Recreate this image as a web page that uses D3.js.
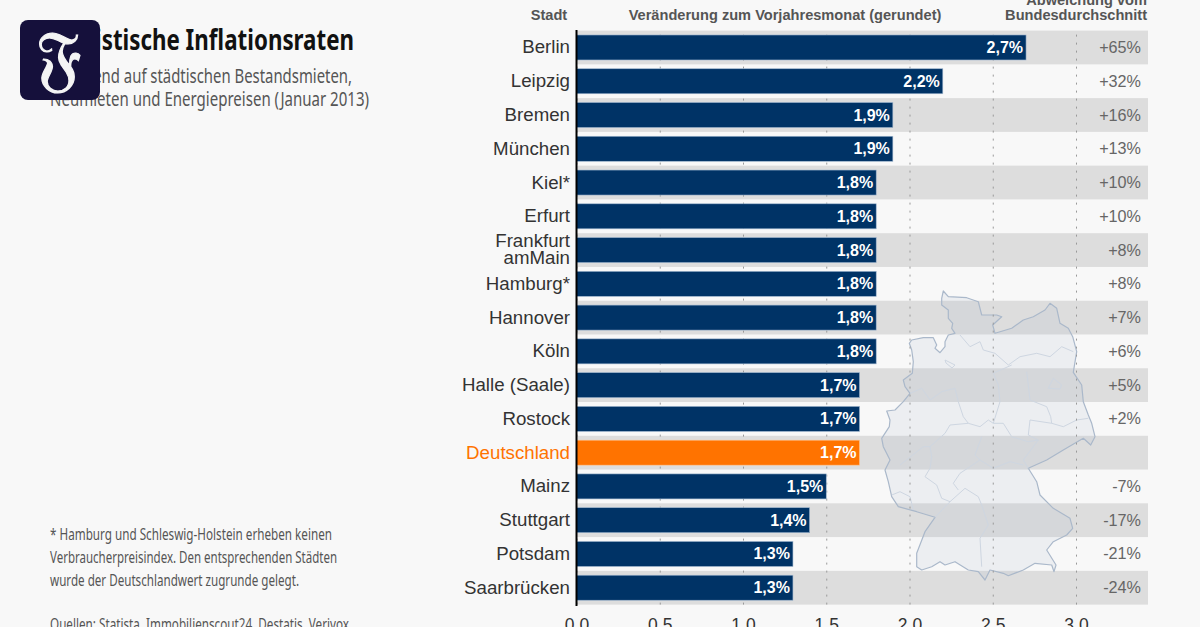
<!DOCTYPE html>
<html>
<head>
<meta charset="utf-8">
<script src="https://cdn.jsdelivr.net/npm/d3@7"></script>
<style>
  html, body { margin: 0; padding: 0; background: #f8f8f8; overflow: hidden; }
  svg { display: block; }
  text { font-family: "Liberation Sans", Arial, sans-serif; }
  .narrow { font-family: "Noto Sans", sans-serif; }
</style>
</head>
<body>
<svg id="chart" width="1200" height="627"></svg>
<script>
const cities = ["Berlin", "Leipzig", "Bremen", "München", "Kiel*", "Erfurt", "Frankfurt amMain", "Hamburg*", "Hannover", "Köln", "Halle (Saale)", "Rostock", "Deutschland", "Mainz", "Stuttgart", "Potsdam", "Saarbrücken"];
const rates = [2.7, 2.2, 1.9, 1.9, 1.8, 1.8, 1.8, 1.8, 1.8, 1.8, 1.7, 1.7, 1.7, 1.5, 1.4, 1.3, 1.3];
const deviations = ["+65%", "+32%", "+16%", "+13%", "+10%", "+10%", "+8%", "+8%", "+7%", "+6%", "+5%", "+2%", "", "-7%", "-17%", "-21%", "-24%"];
const axisTicks = [0, 0.5, 1, 1.5, 2, 2.5, 3];
const subtitle = ["Basierend auf städtischen Bestandsmieten,", "Neumieten und Energiepreisen (Januar 2013)"];
const footnote = ["* Hamburg und Schleswig-Holstein erheben keinen", "Verbraucherpreisindex. Den entsprechenden Städten", "wurde der Deutschlandwert zugrunde gelegt."];

// map outline and state borders
const germany = [[943.3,291],[941.7,298.3],[941.7,305],[948.3,310],[948.3,318.3],[952.7,323.3],[951.7,328.3],[955,333.3],[948.3,335],[945,341.7],[945,346.7],[940,352.7],[935,348.3],[936.7,345],[933.3,337.7],[923.3,337.7],[911.7,340],[909.3,343.3],[911.7,350],[913.3,361.7],[912.3,373.3],[903.3,380],[905,386.7],[910,393.3],[903.3,401.7],[895,410],[886.7,411],[890,420],[889.3,426.7],[881.7,438.3],[883.3,446.7],[890,460],[885,470],[888.3,481.7],[891.7,496.7],[898.3,506.7],[916.7,511.7],[935,517.3],[925,531.7],[916.7,553.3],[916.7,566.7],[921.7,570],[931.7,566.7],[940,561.7],[945,565],[955,561.7],[968.3,570],[978.3,571.7],[985,580],[990,570],[1003.3,573.3],[1008.3,575.7],[1023.3,570],[1035,563.3],[1051.7,565],[1054,571.7],[1056,565],[1046.7,550],[1053.3,541.7],[1066.7,535],[1072.7,528.3],[1070,518.3],[1053.3,508.3],[1040,495],[1036.7,481.7],[1028.3,468.3],[1046.7,460],[1063.3,450],[1083.3,438.3],[1090.7,445],[1095,436.7],[1091.7,423.3],[1088.3,415],[1083.3,401.7],[1081.7,385],[1073.3,372.3],[1076.7,351.7],[1072.7,336.7],[1068.3,328.3],[1060,323.3],[1056.7,308.3],[1050,303.3],[1045,310],[1033.3,316.7],[1023.3,320],[1011.7,328.3],[995,333.3],[992.7,325],[1001.7,316.7],[996.7,315],[981.7,315],[978.3,301.7],[966.7,297.7],[948.3,296.7]];
const borders = [
  [[960,335],[970,346.7],[980,341.7],[983.3,350],[995,353.3],[1008.3,365],[1020,356.7],[1036.7,353.3],[1050,356.7],[1061.7,346.7],[1073.3,351.7]],
  [[1011.7,365],[993.3,373.3],[998.3,385],[1000,401.7],[993.3,423.3]],
  [[1026.7,371.7],[1028.3,385],[1030,400],[1046.7,406.7],[1050.7,416.7],[1051.7,423.3],[1030,420],[1028.3,435],[1038.3,440],[1023.3,460],[1028.3,468.3]],
  [[1051.7,423.3],[1063.3,426.7],[1076.7,420],[1088.3,418.3]],
  [[1048.3,388.3],[1053.3,378.3],[1061.7,385],[1060,389],[1048.3,388.3]],
  [[910,393.3],[921.7,388.3],[930,400],[941.7,391.7],[955,388.3],[958.3,401.7],[963.3,416.7],[968.3,423.3],[950,425],[945,433.3],[930,446.7],[923.3,446.7],[900,465]],
  [[930,446.7],[931.7,456.7],[930,468.3],[925,476.7],[936.7,485],[941.7,498.3],[950,501.7],[935,517.3]],
  [[968.3,423.3],[980,426.7],[988.3,420],[993.3,423.3],[1003.3,423.3],[1011.7,436.7],[1028.3,441.7],[1038.3,440]],
  [[981.7,436.7],[975,455],[980,460],[993.3,468.3],[1010,461.7],[1023.3,465]],
  [[980,460],[960,473.3],[953.3,483.3],[958.3,490]],
  [[950,501.7],[965,488.3],[978.3,496.7],[981.7,505],[988.3,525],[980,538.3],[981.7,566.7]],
  [[891.7,495],[900,491.7],[910,496.7],[913.3,510]],
  [[945,360],[955,365],[952,368],[946,363],[945,360]]
];

const svg = d3.select("#chart");

const x = d3.scaleLinear().domain([0, 3]).range([576.5, 1076]);
const y = d3.scaleBand().domain(cities).range([30.6, 604.6]);
const barHeight = 25;

// grey stripes
svg.append("g").selectAll("rect")
    .data(cities.filter((d, i) => i % 2 === 0))
    .join("rect")
    .attr("x", 576)
    .attr("y", d => y(d))
    .attr("width", 572)
    .attr("height", y.bandwidth())
    .attr("fill", "#dddddd");

// map sits on the stripes
const mapLine = d3.line();
const map = svg.append("g");
map.append("path")
    .attr("d", mapLine(germany) + "Z")
    .attr("fill", "#a8b6cc")
    .attr("fill-opacity", 0.15)
    .attr("stroke", "#aab8ca")
    .attr("stroke-width", 1.2)
    .attr("stroke-linejoin", "round");
map.selectAll(".border")
    .data(borders)
    .join("path")
    .attr("class", "border")
    .attr("d", mapLine)
    .attr("fill", "none")
    .attr("stroke", "#ced6e1")
    .attr("stroke-width", 1)
    .attr("stroke-linejoin", "round");

// dotted grid from a second axis
const grid = svg.append("g")
    .attr("transform", "translate(0,604.6)")
    .call(d3.axisBottom(x).tickValues(axisTicks).tickSizeInner(-574).tickSizeOuter(0).tickFormat(""));
grid.select(".domain").remove();
grid.selectAll("line")
    .attr("stroke", "#999")
    .attr("stroke-dasharray", "2,6");

// bars
svg.append("g").selectAll("rect")
    .data(cities)
    .join("rect")
    .attr("x", x(0))
    .attr("y", d => y(d) + (y.bandwidth() - barHeight) / 2)
    .attr("width", (d, i) => x(rates[i]) - x(0))
    .attr("height", barHeight)
    .attr("fill", d => d === "Deutschland" ? "#ff7300" : "#003366")
    .attr("stroke", d => d === "Deutschland" ? "#ffc999" : "#9fb6cf")
    .attr("stroke-width", 0.6);

// value labels
svg.append("g").selectAll("text")
    .data(cities)
    .join("text")
    .attr("x", (d, i) => x(rates[i]) - 3)
    .attr("y", d => y(d) + y.bandwidth() / 2 + 5.5)
    .attr("text-anchor", "end")
    .attr("font-size", 16)
    .attr("font-weight", "bold")
    .attr("fill", "#fff")
    .text((d, i) => rates[i].toFixed(1).replace(".", ",") + "%");

// city names, Frankfurt takes two lines
const names = svg.append("g").selectAll("text")
    .data(cities)
    .join("text")
    .attr("text-anchor", "end")
    .attr("font-size", 18.7)
    .attr("fill", d => d === "Deutschland" ? "#ff7300" : "#333");
names.filter(d => d !== "Frankfurt amMain")
    .attr("x", 570)
    .attr("y", d => y(d) + y.bandwidth() / 2 + 6)
    .text(d => d);
names.filter(d => d === "Frankfurt amMain")
    .selectAll("tspan")
    .data(d => [["Frankfurt", y(d) + 13.5], ["amMain", y(d) + 30.5]])
    .join("tspan")
    .attr("x", 570)
    .attr("y", d => d[1])
    .text(d => d[0]);

// deviation column
svg.append("g").selectAll("text")
    .data(cities)
    .join("text")
    .attr("x", 1141)
    .attr("y", d => y(d) + y.bandwidth() / 2 + 5.5)
    .attr("text-anchor", "end")
    .attr("font-size", 16.2)
    .attr("fill", "#666")
    .text((d, i) => deviations[i]);

// left axis line
svg.append("line")
    .attr("x1", x(0)).attr("x2", x(0))
    .attr("y1", 30).attr("y2", 606)
    .attr("stroke", "#000")
    .attr("stroke-width", 2);

// bottom tick labels, cut by the picture edge
const axis = svg.append("g")
    .attr("transform", "translate(0,605)")
    .call(d3.axisBottom(x).tickValues(axisTicks).tickSize(0).tickPadding(14).tickFormat(d3.format(".1f")));
axis.select(".domain").remove();
axis.selectAll("text")
    .attr("font-size", 17.5)
    .attr("font-family", "Liberation Sans, Arial, sans-serif")
    .attr("fill", "#333");

// column heads
const heads = svg.append("g")
    .attr("font-size", 14.6)
    .attr("font-weight", "bold")
    .attr("fill", "#555");
heads.append("text").attr("x", 549).attr("y", 20).attr("text-anchor", "middle").text("Stadt");
heads.append("text").attr("x", 785).attr("y", 20).attr("text-anchor", "middle").text("Veränderung zum Vorjahresmonat (gerundet)");
heads.append("text").attr("x", 1147).attr("y", 5).attr("text-anchor", "end").text("Abweichung vom");
heads.append("text").attr("x", 1147).attr("y", 20).attr("text-anchor", "end").text("Bundesdurchschnitt");

// left column text, squeezed to the condensed widths of the original
svg.append("text").attr("class", "narrow")
    .attr("x", 50).attr("y", 50)
    .attr("font-size", 29).attr("font-weight", "bold").attr("fill", "#111")
    .attr("textLength", 304).attr("lengthAdjust", "spacingAndGlyphs")
    .text("Statistische Inflationsraten");
const subtitleWidths = [302, 319];
svg.append("g").selectAll("text")
    .data(subtitle)
    .join("text").attr("class", "narrow")
    .attr("x", 50)
    .attr("y", (d, i) => 83 + i * 22.5)
    .attr("font-size", 20)
    .attr("fill", "#555")
    .attr("textLength", (d, i) => subtitleWidths[i])
    .attr("lengthAdjust", "spacingAndGlyphs")
    .text(d => d);
const footnoteWidths = [282, 287, 249];
svg.append("g").selectAll("text")
    .data(footnote)
    .join("text").attr("class", "narrow")
    .attr("x", 50)
    .attr("y", (d, i) => 540 + i * 23)
    .attr("font-size", 16)
    .attr("fill", "#555")
    .attr("textLength", (d, i) => footnoteWidths[i])
    .attr("lengthAdjust", "spacingAndGlyphs")
    .text(d => d);
svg.append("text").attr("class", "narrow")
    .attr("x", 50).attr("y", 630)
    .attr("font-size", 16).attr("fill", "#555")
    .attr("textLength", 299).attr("lengthAdjust", "spacingAndGlyphs")
    .text("Quellen: Statista, Immobilienscout24, Destatis, Verivox");

// logo on top of the headline
svg.append("rect")
    .attr("x", 20).attr("y", 20)
    .attr("width", 80).attr("height", 80).attr("rx", 8)
    .attr("fill", "#15103b");
svg.append("text")
    .attr("x", 59).attr("y", 82)
    .attr("text-anchor", "middle")
    .attr("font-size", 72)
    .attr("fill", "#f4f4f4")
    .attr("stroke", "#f4f4f4")
    .attr("stroke-width", 1.2)
    .style("font-family", "'DejaVu Serif', 'DejaVu Sans', serif")
    .text("𝔉");
</script>
</body>
</html>
